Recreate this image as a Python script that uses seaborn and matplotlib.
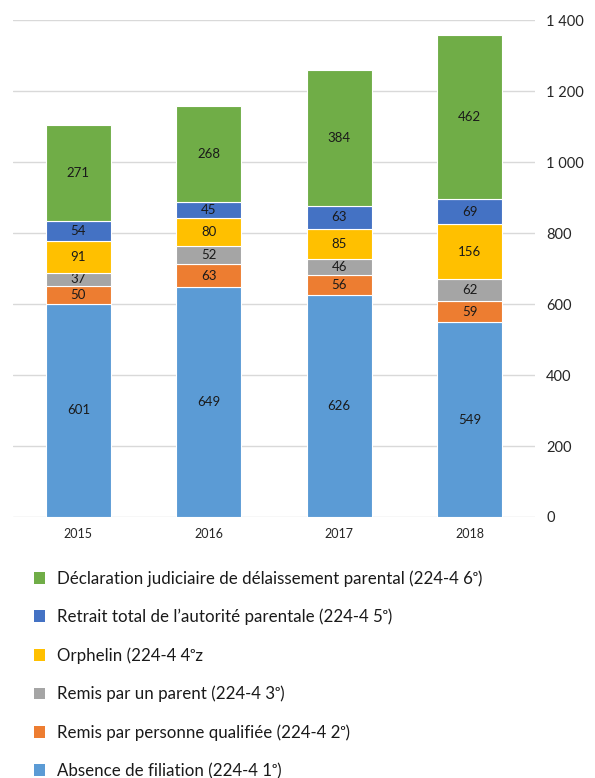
import numpy as np
import matplotlib
matplotlib.use("Agg")
import matplotlib.pyplot as plt
from matplotlib.patches import Patch
from matplotlib.ticker import FuncFormatter
import seaborn as sns

years = ["2015", "2016", "2017", "2018"]
absence = [601, 649, 626, 549]
remis_qualifiee = [50, 63, 56, 59]
remis_parent = [37, 52, 46, 62]
orphelin = [91, 80, 85, 156]
retrait = [54, 45, 63, 69]
declaration = [271, 268, 384, 462]

series_names = [
    "Absence de filiation (224-4 1\u1d52)",
    "Remis par personne qualifiée (224-4 2\u1d52)",
    "Remis par un parent (224-4 3\u1d52)",
    "Orphelin (224-4 4\u1d52z",
    "Retrait total de l\u2019autorité parentale (224-4 5\u1d52)",
    "Déclaration judiciaire de délaissement parental (224-4 6\u1d52)",
]
series_values = [absence, remis_qualifiee, remis_parent, orphelin, retrait, declaration]
colors = ["#5B9BD5", "#ED7D31", "#A5A5A5", "#FFC000", "#4472C4", "#70AD47"]

sns.set_style("white")
plt.rcParams["font.family"] = ["Lato", "DejaVu Sans"]

fig = plt.figure(figsize=(5.95, 7.78), dpi=100)
ax = fig.add_axes([0.022, 0.3355, 0.877, 0.6385])

bottom = np.zeros(len(years))
for name, vals, c in zip(series_names, series_values, colors):
    sns.barplot(x=years, y=vals, bottom=bottom, color=c, saturation=1, width=0.5,
                edgecolor="white", linewidth=0.8, ax=ax, zorder=3)
    cont = ax.containers[-1]
    ax.bar_label(cont, labels=[str(v) for v in vals], label_type="center",
                 fontsize=9.5, color="#1a1a1a")
    bottom = bottom + np.array(vals)

ax.set_ylim(0, 1400)
ax.set_xlim(-0.5, 3.5)
ax.set_yticks(range(0, 1401, 200))
ax.yaxis.set_major_formatter(FuncFormatter(lambda v, p: f"{int(v):,}".replace(",", " ")))
ax.yaxis.tick_right()
ax.grid(axis="y", color="#D9D9D9", linewidth=1, zorder=0)
ax.set_axisbelow(True)
for s in ax.spines.values():
    s.set_visible(False)
ax.tick_params(axis="y", length=0, pad=8, labelsize=10.5, labelcolor="#262626")
ax.tick_params(axis="x", length=0, pad=8, labelsize=9, labelcolor="#262626")
ax.set_xlabel("")
ax.set_ylabel("")

handles = [Patch(facecolor=c, edgecolor="none", label=n) for n, c in zip(series_names, colors)]
fig.legend(handles=handles[::-1], loc="upper left", bbox_to_anchor=(0.045, 0.276),
           frameon=False, fontsize=12.2, handlelength=0.7, handleheight=0.7,
           handletextpad=0.7, labelspacing=1.3, labelcolor="#1a1a1a", borderaxespad=0)

fig.savefig("out.png", dpi=100)
